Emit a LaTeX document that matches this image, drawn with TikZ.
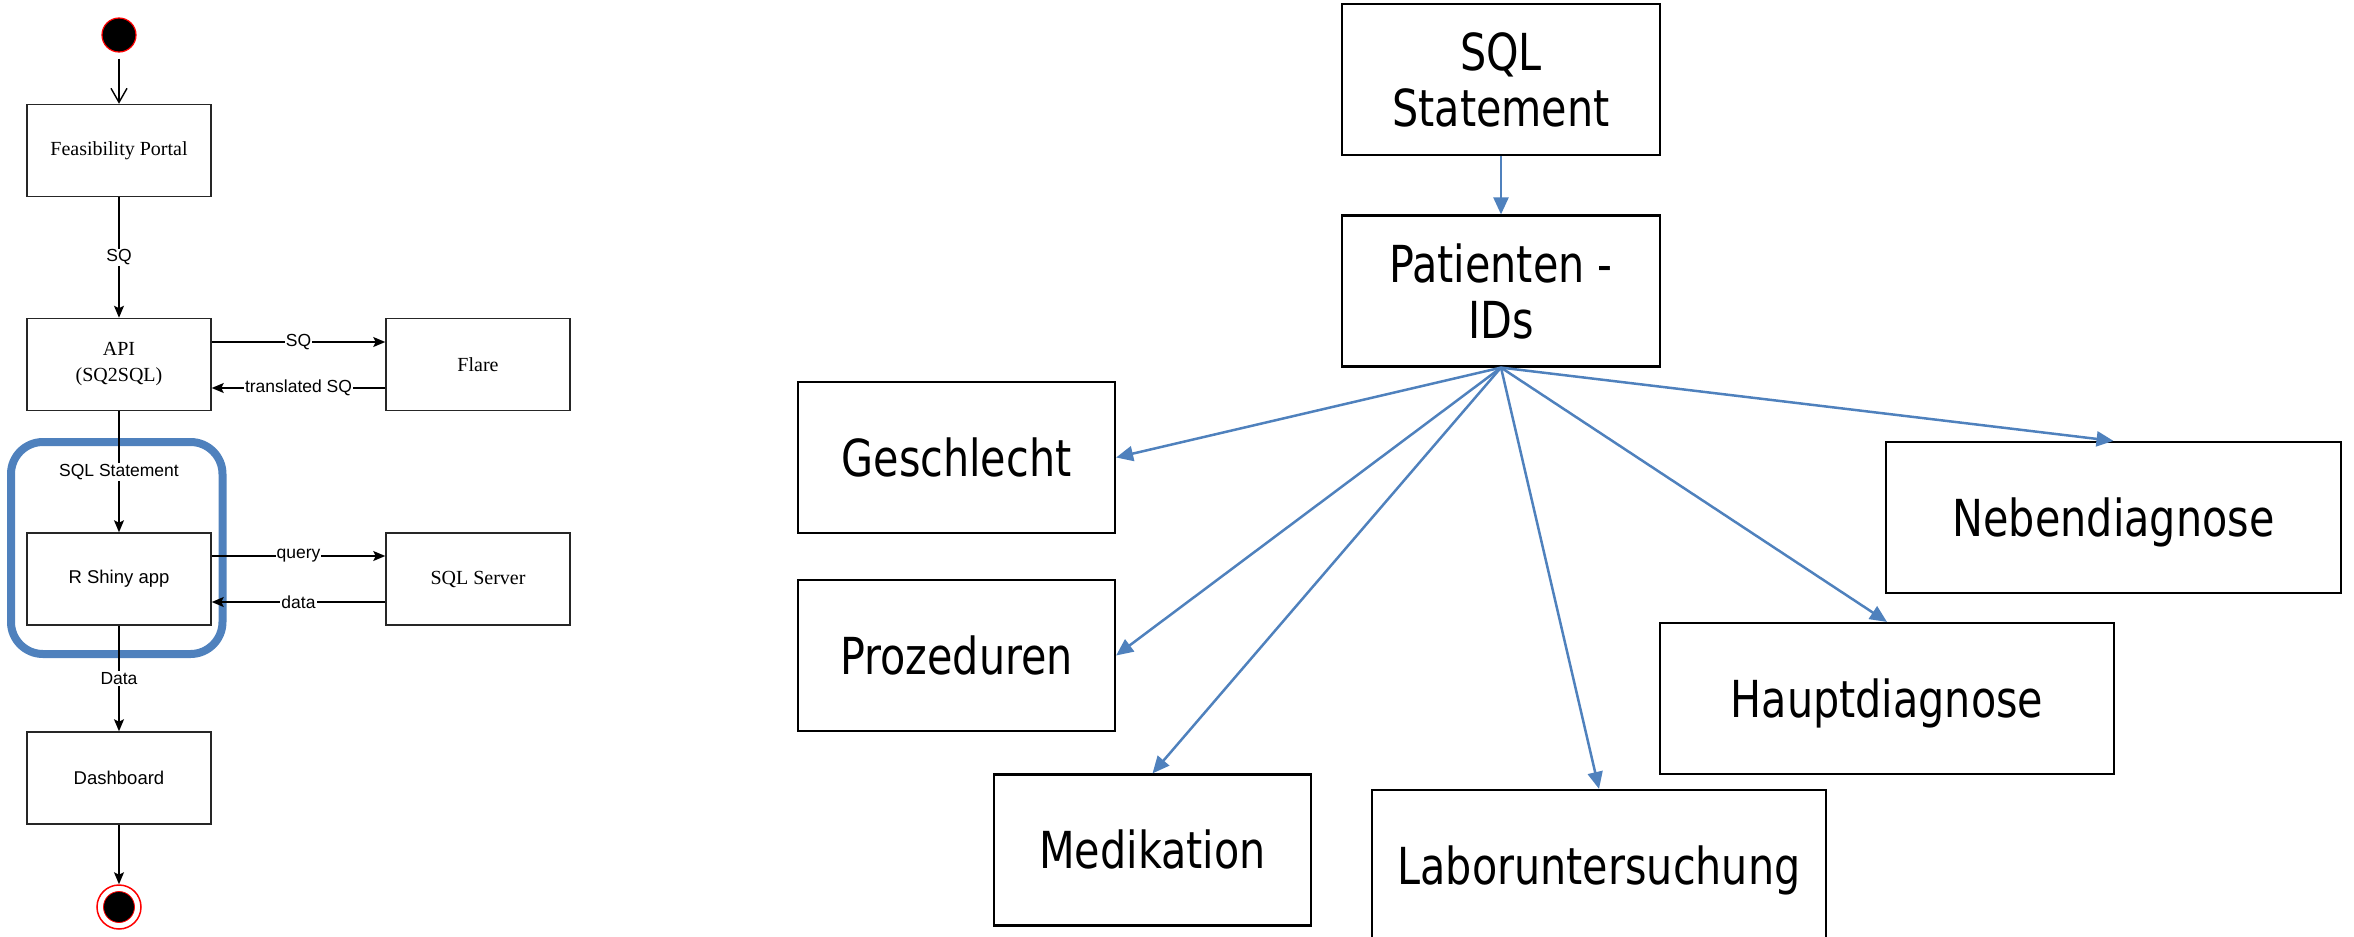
\documentclass[tikz,border=0pt]{standalone}
\usepackage{fontspec}
\setmainfont{Liberation Serif}
\newfontfamily\arialf{Liberation Sans}
\newfontfamily\tahomaf[FakeStretch=0.81]{DejaVu Sans}
\usetikzlibrary{arrows.meta}
\definecolor{officeblue}{HTML}{4F81BD}
\begin{document}
\begin{tikzpicture}[x=1pt,y=-1pt,
  lbox/.style={draw=black!85,line width=1.5pt,minimum width=184pt,minimum height=92pt,inner sep=0pt,
    align=center,font=\fontsize{20}{26}\selectfont},
  lsans/.style={font=\arialf\fontsize{18.5}{22}\selectfont},
  lbl/.style={fill=white,inner sep=1pt,font=\arialf\fontsize{17.5}{20}\selectfont},
  farrow/.style={draw=black,line width=1.4pt,-{Stealth[length=12pt,width=10pt,inset=2.5pt]}},
  rbox/.style={draw=black,line width=2.2pt,minimum height=151pt,inner sep=0pt,align=center,
    font=\tahomaf\fontsize{51}{56}\selectfont},
  oneline/.style={text height=37pt,text depth=0pt},
  barrow/.style={draw=officeblue,line width=2.5pt,-{Triangle[length=17pt,width=15pt]}}]
\useasboundingbox (0,0) rectangle (2354,937);

% ---------- process flow (left) ----------
\draw[officeblue,line width=8pt,rounded corners=32pt] (11,442) rectangle (222.5,654);

\node[circle,fill=black,draw=red,line width=1.2pt,minimum size=34pt,inner sep=0pt] (start) at (119,35) {};
\node[lbox] (fp) at (119,150.5) {Feasibility Portal};
\node[lbox] (api) at (119,364.5) {API\\(SQ2SQL)};
\node[lbox] (flare) at (478,364.5) {Flare};
\node[lbox,lsans] (shiny) at (119,579) {R Shiny app};
\node[lbox] (sqlsrv) at (478,579) {SQL Server};
\node[lbox,lsans] (dash) at (119,778) {Dashboard};
\node[circle,draw=red,line width=1.5pt,minimum size=44pt,inner sep=0pt] (finish) at (119,907) {};
\node[circle,fill=black,draw=red,line width=0.8pt,minimum size=31pt,inner sep=0pt] (finishdot) at (finish.center) {};

\draw[draw=black,line width=1.4pt,-{Straight Barb[length=14pt,width=16pt,line width=1.4pt]},shorten <=6pt] (start) -- (fp);
\draw[farrow] (fp) -- node[lbl]{SQ} (api);
\draw[farrow] ([yshift=22.5pt]api.east) -- node[lbl]{SQ} ([yshift=22.5pt]flare.west);
\draw[farrow] ([yshift=-23.5pt]flare.west) -- node[lbl]{translated SQ} ([yshift=-23.5pt]api.east);
\draw[farrow] (api) -- node[lbl]{SQL Statement} (shiny);
\draw[farrow] ([yshift=23pt]shiny.east) -- node[lbl]{query} ([yshift=23pt]sqlsrv.west);
\draw[farrow] ([yshift=-23pt]sqlsrv.west) -- node[lbl]{data} ([yshift=-23pt]shiny.east);
\draw[farrow] (shiny) -- node[lbl]{Data} (dash);
\draw[farrow] (dash) -- (finish);

% ---------- data tree (right) ----------
\node[rbox,minimum width=318pt] (sqlst) at (1501,79.5) {SQL\\Statement};
\node[rbox,minimum width=318pt] (pat) at (1501,291) {Patienten -\\IDs};
\node[rbox,oneline,minimum width=317pt] (gesch) at (956.5,457.5) {Geschlecht};
\node[rbox,oneline,minimum width=317pt] (proz) at (956.5,655.5) {Prozeduren};
\node[rbox,oneline,minimum width=317pt] (medi) at (1152.5,850) {Medikation};
\node[rbox,oneline,minimum width=454pt] (labor) at (1599,865.5) {Laboruntersuchung};
\node[rbox,oneline,minimum width=454pt] (haupt) at (1887,698.5) {Hauptdiagnose};
\node[rbox,oneline,minimum width=455pt] (neben) at (2113.5,517.5) {Nebendiagnose};

\draw[barrow] (sqlst) -- (pat);
\draw[barrow] (pat.south) -- (gesch.east);
\draw[barrow] (pat.south) -- (proz.east);
\draw[barrow] (pat.south) -- (medi.north);
\draw[barrow] (pat.south) -- (labor.north);
\draw[barrow] (pat.south) -- (haupt.north);
\draw[barrow] (pat.south) -- (neben.north);
\end{tikzpicture}
\end{document}
